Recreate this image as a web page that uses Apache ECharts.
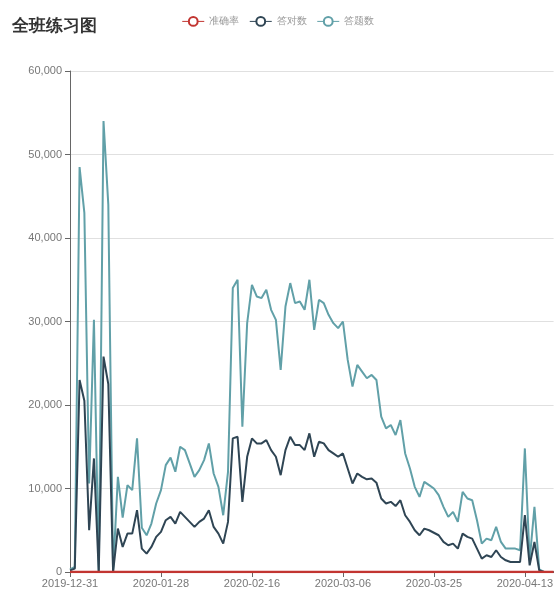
<!DOCTYPE html>
<html>
<head>
<meta charset="utf-8">
<script src="https://cdn.jsdelivr.net/npm/echarts@6/dist/echarts.min.js"></script>
<style>
html,body{margin:0;padding:0;background:#fff;}
#main{width:556px;height:592px;}
</style>
</head>
<body>
<div id="main"></div>
<script>
var titleText = '全班练习图';
var seriesNames = ['准确率', '答对数', '答题数'];
var dates = [
'2019-12-31','2020-01-01','2020-01-02','2020-01-03','2020-01-04','2020-01-05','2020-01-06','2020-01-07','2020-01-08','2020-01-09',
'2020-01-19','2020-01-20','2020-01-21','2020-01-22','2020-01-23','2020-01-24','2020-01-25','2020-01-26','2020-01-27','2020-01-28',
'2020-01-29','2020-01-30','2020-01-31','2020-02-01','2020-02-02','2020-02-03','2020-02-04','2020-02-05','2020-02-06','2020-02-07',
'2020-02-08','2020-02-09','2020-02-10','2020-02-11','2020-02-12','2020-02-13','2020-02-14','2020-02-15','2020-02-16','2020-02-17',
'2020-02-18','2020-02-19','2020-02-20','2020-02-21','2020-02-22','2020-02-23','2020-02-24','2020-02-25','2020-02-26','2020-02-27',
'2020-02-28','2020-02-29','2020-03-01','2020-03-02','2020-03-03','2020-03-04','2020-03-05','2020-03-06','2020-03-07','2020-03-08',
'2020-03-09','2020-03-10','2020-03-11','2020-03-12','2020-03-13','2020-03-14','2020-03-15','2020-03-16','2020-03-17','2020-03-18',
'2020-03-19','2020-03-20','2020-03-21','2020-03-22','2020-03-23','2020-03-24','2020-03-25','2020-03-26','2020-03-27','2020-03-28',
'2020-03-29','2020-03-30','2020-03-31','2020-04-01','2020-04-02','2020-04-03','2020-04-04','2020-04-05','2020-04-06','2020-04-07',
'2020-04-08','2020-04-09','2020-04-10','2020-04-11','2020-04-12','2020-04-13','2020-04-14','2020-04-15','2020-04-16','2020-04-17',
'2020-04-18','2020-04-19'
];
var accuracy = [
0.67,0.67,0.47,0.48,0.47,0.45,0,0.48,0.51,0,
0.46,0.46,0.44,0.47,0.46,0.53,0.5,0.52,0.51,0.49,
0.48,0.48,0.48,0.48,0.45,0.46,0.47,0.49,0.48,0.48,
0.46,0.45,0.5,0.5,0.47,0.46,0.48,0.46,0.47,0.47,
0.47,0.47,0.46,0.46,0.48,0.46,0.47,0.47,0.47,0.46,
0.47,0.48,0.48,0.48,0.47,0.48,0.47,0.47,0.49,0.48,
0.48,0.48,0.48,0.47,0.47,0.47,0.48,0.48,0.48,0.47,
0.48,0.48,0.49,0.49,0.48,0.48,0.47,0.48,0.46,0.48,
0.47,0.47,0.48,0.48,0.47,0.45,0.47,0.5,0.47,0.48,
0.5,0.5,0.43,0.43,0.46,0.46,0.57,0.46,0.67,0,
0,0
];
var correctCount = [
200,400,23000,20500,5000,13600,0,25800,22500,0,
5200,3000,4600,4600,7400,2800,2200,3000,4200,4800,
6200,6600,5800,7200,6600,6000,5400,6000,6400,7400,
5400,4600,3400,6000,16000,16200,8400,13800,16000,15400,
15400,15800,14600,13800,11600,14600,16200,15200,15200,14600,
16600,13800,15600,15400,14600,14200,13800,14200,12400,10600,
11800,11400,11100,11200,10700,8800,8200,8400,7900,8600,
6800,6000,5000,4400,5200,5000,4700,4400,3600,3200,
3400,2800,4600,4200,4000,2800,1600,2000,1800,2600,
1800,1400,1200,1200,1200,6800,800,3600,200,0,
0,0
];
var answerCount = [
300,600,48500,43000,10600,30200,0,54000,44000,0,
11400,6500,10400,9800,16000,5300,4400,5800,8200,9800,
12800,13700,12000,15000,14600,13000,11400,12200,13400,15400,
11800,10200,6800,12000,34000,35000,17400,29800,34400,33000,
32800,33800,31400,30200,24200,31800,34600,32200,32400,31400,
35000,29000,32600,32200,30800,29800,29200,30000,25400,22200,
24800,24000,23200,23600,23000,18600,17200,17600,16400,18200,
14200,12400,10200,9000,10800,10400,10000,9200,7800,6600,
7200,6000,9600,8800,8600,6200,3400,4000,3800,5400,
3600,2800,2800,2800,2600,14800,1400,7800,300,0,
0,0
];
var colors = ['#c23531', '#2f4554', '#61a0a8'];

var chart = echarts.init(document.getElementById('main'), null, {renderer: 'canvas'});
function commas(v) { return String(v).replace(/\B(?=(\d{3})+(?!\d))/g, ','); }
var option = {
  animation: false,
  color: colors,
  title: {
    text: titleText, left: 12, top: 18, padding: 0,
    textStyle: {fontSize: 17, fontWeight: 'bold', color: '#333'}
  },
  legend: {
    data: seriesNames, left: 'center', top: 16, padding: 0,
    itemWidth: 22, itemHeight: 11, itemGap: 10,
    lineStyle: {width: 1},
    itemStyle: {borderWidth: 1},
    textStyle: {fontSize: 10, color: '#999'}
  },
  grid: {left: 70, right: 0, top: 71, bottom: 20, containLabel: false},
  xAxis: {
    type: 'category', data: dates, boundaryGap: false,
    axisLine: {lineStyle: {color: '#666'}},
    axisTick: {interval: 18, lineStyle: {color: '#666'}},
    axisLabel: {interval: 18, fontSize: 11, color: '#777', margin: 6}
  },
  yAxis: {
    type: 'value', min: 0, max: 60000, interval: 10000,
    axisLine: {show: true, lineStyle: {color: '#666'}},
    axisTick: {show: true, length: 5, lineStyle: {color: '#666'}},
    axisLabel: {fontSize: 11, color: '#777', formatter: commas},
    splitLine: {lineStyle: {color: '#e0e0e0'}}
  },
  series: [
    {name: seriesNames[0], type: 'line', data: accuracy, symbol: 'emptyCircle', showSymbol: false, lineStyle: {width: 2.5, color: colors[0]}, itemStyle: {color: colors[0]}, z: 4},
    {name: seriesNames[1], type: 'line', data: correctCount, symbol: 'emptyCircle', showSymbol: false, lineStyle: {width: 2, color: colors[1]}, itemStyle: {color: colors[1]}, z: 3},
    {name: seriesNames[2], type: 'line', data: answerCount, symbol: 'emptyCircle', showSymbol: false, lineStyle: {width: 2, color: colors[2]}, itemStyle: {color: colors[2]}, z: 2}
  ]
};
chart.setOption(option);
</script>
</body>
</html>
